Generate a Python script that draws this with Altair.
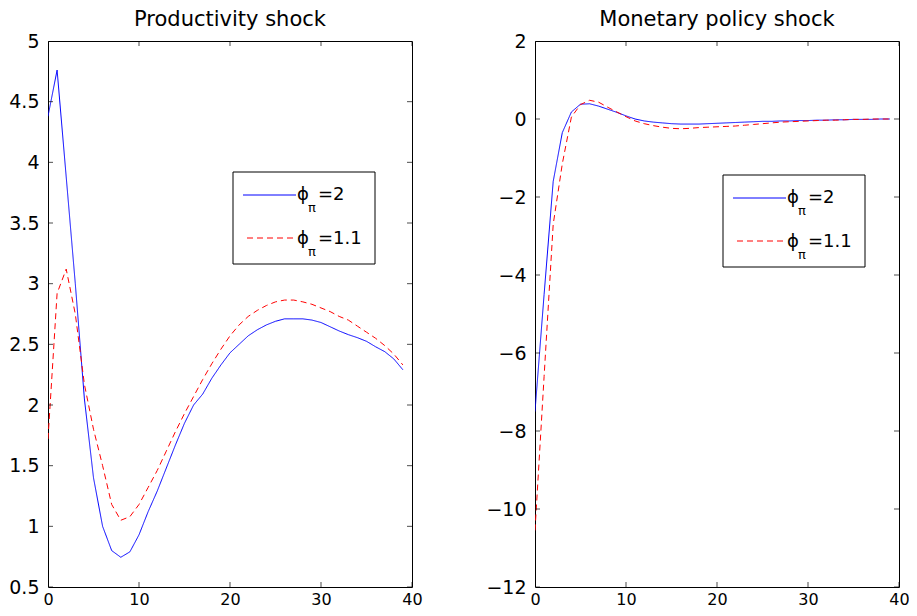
import altair as alt
import pandas as pd

# ---------------- data ----------------
periods = list(range(40))

prod_phi2 = [4.38, 4.76, 3.88, 3.00, 2.05, 1.40, 1.00, 0.80, 0.745, 0.79,
             0.93, 1.12, 1.29, 1.48, 1.67, 1.85, 2.00, 2.09, 2.22, 2.33,
             2.43, 2.50, 2.57, 2.62, 2.66, 2.69, 2.71, 2.71, 2.71, 2.70,
             2.68, 2.645, 2.61, 2.58, 2.555, 2.525, 2.48, 2.44, 2.38, 2.29]
prod_phi11 = [1.72, 2.92, 3.12, 2.75, 2.17, 1.80, 1.50, 1.18, 1.05, 1.08,
              1.18, 1.32, 1.46, 1.62, 1.78, 1.93, 2.07, 2.21, 2.34, 2.46,
              2.57, 2.66, 2.73, 2.78, 2.82, 2.85, 2.865, 2.865, 2.85, 2.83,
              2.80, 2.77, 2.73, 2.70, 2.65, 2.60, 2.55, 2.49, 2.42, 2.33]

mon_phi2 = [-7.5, -4.5, -1.6, -0.35, 0.18, 0.38, 0.39, 0.33, 0.25, 0.17,
            0.08, 0.0, -0.05, -0.08, -0.10, -0.12, -0.13, -0.13, -0.13, -0.12,
            -0.11, -0.10, -0.09, -0.08, -0.07, -0.06, -0.06, -0.05, -0.05, -0.04,
            -0.04, -0.03, -0.03, -0.02, -0.02, -0.01, -0.01, -0.01, 0.0, 0.0]
mon_phi11 = [-10.55, -6.6, -2.7, -1.15, 0.05, 0.37, 0.48, 0.43, 0.30, 0.18,
             0.06, -0.05, -0.12, -0.17, -0.21, -0.24, -0.25, -0.24, -0.22, -0.21,
             -0.20, -0.19, -0.18, -0.16, -0.14, -0.12, -0.10, -0.08, -0.07, -0.06,
             -0.05, -0.04, -0.03, -0.03, -0.02, -0.01, -0.01, 0.0, 0.0, 0.0]

series_names = ["phi_pi=2", "phi_pi=1.1"]
series_colors = ["#0000ff", "#ff0000"]
series_dashes = [[1, 0], [6, 4]]

legend_symbol = "ϕ"
legend_sub = "π"
legend_values = ["=2", "=1.1"]

titles = ["Productivity shock", "Monetary policy shock"]

x_ticks = [0, 10, 20, 30, 40]
prod_y_ticks = [0.5, 1, 1.5, 2, 2.5, 3, 3.5, 4, 4.5, 5]
mon_y_ticks = [-12, -10, -8, -6, -4, -2, 0, 2]

W, H = 364, 546
FONT = "DejaVu Sans"
ONE = pd.DataFrame({"k": [0]})


def panel(title, s1, s2, ydom, yticks, box):
    df = pd.DataFrame({
        "t": periods * 2,
        "value": s1 + s2,
        "series": [series_names[0]] * len(periods) + [series_names[1]] * len(periods),
    })
    xs = alt.Scale(domain=[0, 40], nice=False, zero=False)
    ys = alt.Scale(domain=ydom, nice=False, zero=False)
    xax = alt.Axis(values=x_ticks, title=None, format="~g", labelFontSize=16, labelPadding=4)
    yax = alt.Axis(values=yticks, title=None, format="~g", labelFontSize=19, labelPadding=9)

    lines = alt.Chart(df).mark_line(strokeWidth=1, clip=True).encode(
        x=alt.X("t:Q", scale=xs, axis=xax, title=None),
        y=alt.Y("value:Q", scale=ys, axis=yax, title=None),
        color=alt.Color("series:N", scale=alt.Scale(domain=series_names, range=series_colors), legend=None),
        strokeDash=alt.StrokeDash("series:N", scale=alt.Scale(domain=series_names, range=series_dashes), legend=None),
        order="t:Q",
    )

    ydf = pd.DataFrame({"v": yticks})
    xdf = pd.DataFrame({"v": x_ticks})
    tk = dict(size=10, thickness=1, color="black", clip=True)
    layers = [lines]
    for edge in (0, 40):
        layers.append(alt.Chart(ydf).mark_tick(orient="horizontal", **tk).encode(
            y=alt.Y("v:Q", scale=ys, axis=yax, title=None), x=alt.datum(edge)))
    for edge in ydom:
        layers.append(alt.Chart(xdf).mark_tick(orient="vertical", **tk).encode(
            x=alt.X("v:Q", scale=xs, axis=xax, title=None), y=alt.datum(edge)))

    bx, by = box
    layers.append(alt.Chart(ONE).mark_rect(fill="white", stroke="black", strokeWidth=1).encode(
        x=alt.value(bx), x2=alt.value(bx + 142), y=alt.value(by), y2=alt.value(by + 92)))
    for i in range(2):
        ly = by + 23 + i * 43
        layers.append(alt.Chart(ONE).mark_rule(color=series_colors[i], strokeWidth=1,
                                               strokeDash=series_dashes[i]).encode(
            x=alt.value(bx + 10 + i * 4), x2=alt.value(bx + 63), y=alt.value(ly)))
        base = by + 28 + i * 44
        layers.append(alt.Chart(ONE).mark_text(text=legend_symbol, align="left", baseline="alphabetic",
                                               font=FONT, fontSize=18, color="black").encode(
            x=alt.value(bx + 64), y=alt.value(base)))
        layers.append(alt.Chart(ONE).mark_text(text=legend_sub, align="left", baseline="alphabetic",
                                               font=FONT, fontSize=13, color="black").encode(
            x=alt.value(bx + 75), y=alt.value(base + 12)))
        layers.append(alt.Chart(ONE).mark_text(text=legend_values[i], align="left", baseline="alphabetic",
                                               font=FONT, fontSize=18, color="black").encode(
            x=alt.value(bx + 85), y=alt.value(base)))

    return alt.layer(*layers).properties(width=W, height=H, title=title)


left = panel(titles[0], prod_phi2, prod_phi11, [0.5, 5], prod_y_ticks, (185, 131))
right = panel(titles[1], mon_phi2, mon_phi11, [-12, 2], mon_y_ticks, (188, 134))

chart = alt.hconcat(left, right, spacing=123, bounds="flush").configure_view(
    stroke="black", strokeWidth=1
).configure_axis(
    domain=False, ticks=False, grid=False, labelFont=FONT,
    labelColor="black", labelFlush=False, labelOverlap=False,
).configure_title(
    font=FONT, fontSize=21, fontWeight="normal", color="black", offset=2, anchor="middle"
).properties(
    padding={"left": 0, "top": 0, "right": -1, "bottom": 0}
)

chart.save("out.html", embed_options={"renderer": "svg", "actions": False})
